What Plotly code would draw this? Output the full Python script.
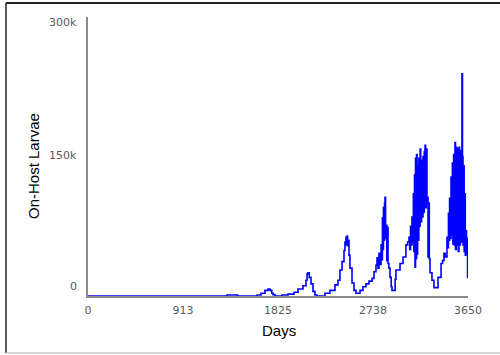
import plotly.graph_objects as go

# Simulated on-host larvae count over ten years (daily model output, sampled)
days = [
    0, 1330, 1335, 1431, 1436, 1620, 1625, 1662, 1700, 1729, 1748, 1765, 1777, 1796,
    1860, 1865, 1921, 1979, 2017, 2065, 2094, 2104, 2113, 2125, 2142, 2161, 2180, 2200,
    2270, 2276, 2324, 2372, 2401, 2420, 2440, 2459, 2468, 2478, 2483, 2488, 2493, 2497,
    2507, 2516, 2536, 2555, 2574, 2593, 2613, 2641, 2670, 2699, 2728, 2747, 2766, 2776,
    2785, 2795, 2805, 2815, 2824, 2828, 2833, 2838, 2843, 2848, 2853, 2858, 2865, 2870,
    2876, 2882, 2890, 2901, 2912, 2920, 2939, 2950, 2958, 2997, 3026, 3054, 3070, 3083,
    3090, 3098, 3105, 3112, 3118, 3125, 3130, 3136, 3141, 3146, 3151, 3156, 3161, 3166,
    3172, 3178, 3184, 3190, 3196, 3204, 3210, 3218, 3224, 3230, 3237, 3243, 3249, 3256,
    3262, 3266, 3272, 3278, 3285, 3304, 3323, 3343, 3362, 3391, 3405, 3419, 3430, 3448,
    3455, 3462, 3467, 3473, 3478, 3487, 3492, 3500, 3505, 3512, 3517, 3525, 3530, 3537,
    3543, 3550, 3556, 3563, 3569, 3576, 3582, 3588, 3592, 3597, 3602, 3608, 3613, 3619,
    3624, 3630, 3636, 3642, 3646, 3650,
]
larvae = [
    0, 0, 1000, 1000, 0, 0, 1000, 3000, 6000, 7500, 6000, 3000, 1500, 0,
    0, 1000, 2000, 4000, 7500, 11000, 17000, 24000, 25000, 20000, 13000, 5000, 1000, 0,
    0, 3000, 6000, 12000, 17000, 28000, 37000, 49000, 58000, 63000, 55000, 64500, 54000, 60000,
    44000, 30000, 14000, 6000, 3000, 3000, 6000, 10000, 13000, 16000, 19000, 26000, 33000, 41000,
    30000, 46000, 34000, 55000, 39000, 84000, 50000, 95000, 60000, 100000, 106000, 62000, 76000, 38000,
    74000, 35000, 30000, 20000, 10000, 6000, 6000, 18000, 28000, 35000, 42000, 55000, 58000, 63000,
    50000, 75000, 55000, 85000, 58000, 110000, 48000, 130000, 31000, 148000, 40000, 152000, 45000, 140000,
    60000, 148000, 75000, 158000, 80000, 146000, 85000, 150000, 90000, 155000, 162000, 95000, 158000, 100000,
    106000, 42000, 100000, 40000, 25000, 17000, 9000, 9000, 20000, 35000, 38000, 46000, 42000, 63000,
    52000, 89000, 60000, 105000, 62000, 128000, 66000, 143000, 56000, 152000, 55000, 165000, 50000, 160000,
    55000, 158000, 48000, 160000, 55000, 156000, 58000, 155000, 239000, 150000, 55000, 140000, 48000, 110000,
    44000, 70000, 45000, 62000, 20000, 20000,
]

x_ticks = [0, 913, 1825, 2738, 3650]
y_ticks = [0, 150000, 300000]
y_tick_text = ["0", "150k", "300k"]

tick_font = dict(family="DejaVu Sans", size=11, color="#5a5a5a")
title_font = dict(family="Liberation Sans, Arial", size=15, color="#000000")

fig = go.Figure(
    go.Scatter(
        x=days,
        y=larvae,
        mode="lines",
        line=dict(color="#0000ff", width=1.6, shape="hv"),
        hoverinfo="skip",
    )
)

fig.update_layout(
    width=500,
    height=355,
    margin=dict(l=88, r=32, t=17, b=59),
    paper_bgcolor="white",
    plot_bgcolor="white",
    showlegend=False,
    xaxis=dict(
        range=[0, 3650],
        tickvals=x_ticks,
        ticktext=[str(v) for v in x_ticks],
        showgrid=False,
        zeroline=False,
        showline=True,
        linecolor="#8a8a8a",
        linewidth=1.5,
        ticks="outside",
        ticklen=3,
        tickcolor="rgba(0,0,0,0)",
        tickfont=tick_font,
    ),
    yaxis=dict(
        range=[0, 300000],
        tickvals=y_ticks,
        showticklabels=False,
        showgrid=False,
        zeroline=False,
        showline=True,
        linecolor="#8a8a8a",
        linewidth=1.5,
        ticks="",
    ),
)

# y-axis labels, nudged inside the axis span as the plotting widget draws them
label_shift = {0: 10, 150000: 1, 300000: -5}
for val, txt in zip(y_ticks, y_tick_text):
    fig.add_annotation(
        x=0, xref="paper", xanchor="right", xshift=-9,
        y=val, yref="y", yanchor="middle", yshift=label_shift[val],
        text=txt, showarrow=False, font=tick_font,
    )

# axis titles
fig.add_annotation(
    x=0.503, y=-0.122, xref="paper", yref="paper",
    xanchor="center", yanchor="middle",
    text="Days", showarrow=False, font=title_font,
)
fig.add_annotation(
    x=-0.142, y=0.466, xref="paper", yref="paper",
    xanchor="center", yanchor="middle", textangle=-90,
    text="On-Host Larvae", showarrow=False, font=title_font,
)

# surrounding widget frame
fig.add_shape(type="line", xref="paper", yref="paper",
              x0=-0.2158, x1=-0.2158, y0=-0.2043, y1=1.0502,
              line=dict(color="#222222", width=1.5))
fig.add_shape(type="line", xref="paper", yref="paper",
              x0=-0.2158, x1=1.09, y0=1.0502, y1=1.0502,
              line=dict(color="#222222", width=2))
fig.add_shape(type="line", xref="paper", yref="paper",
              x0=-0.2158, x1=1.09, y0=-0.2043, y1=-0.2043,
              line=dict(color="#c8c8c8", width=1.5))

fig.write_html("out.html")
